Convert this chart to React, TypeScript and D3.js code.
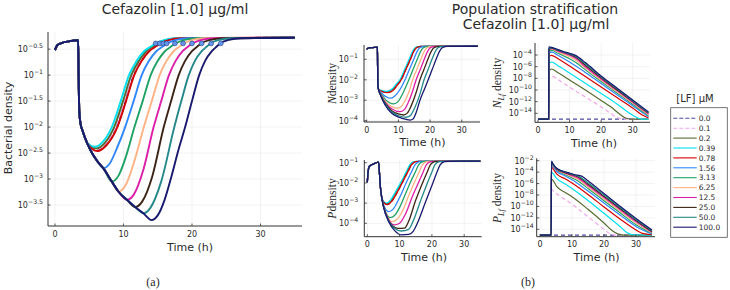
import React from "react";
import * as d3 from "d3";

type Pt = [number, number];

// ---------- legend / series ----------
const LABELS = ["0.0", "0.1", "0.2", "0.39", "0.78", "1.56", "3.13", "6.25", "12.5", "25.0", "50.0", "100.0"];
const COLORS = ["#4b4b9e", "#f5a6ea", "#566b30", "#00e0f0", "#d40000", "#2f86ff", "#1fa264", "#ffb283", "#dc1ea8", "#3b2415", "#23888a", "#17186e"];
const DASHED = [true, true, false, false, false, false, false, false, false, false, false, false];

const T_TICKS = [0, 10, 20, 30];

// ---------- panel (a): Bacterial density (log10) ----------
const A_START: Pt[] = [[0, -0.52], [0.3, -0.43], [1, -0.38], [2, -0.35], [3.38, -0.33]];
const A_ENV: Pt[] = [[3.45, -1.0], [3.55, -1.7], [3.75, -1.95], [4.0, -2.06], [4.7, -2.31], [5.4, -2.5], [6.2, -2.66], [7.05, -2.79], [8.3, -3.05], [9.25, -3.24], [10.5, -3.4], [11.7, -3.54], [12.9, -3.66]];
const A_ENV_END = [4.0, 4.0, 4.0, 4.0, 4.0, 6.2, 7.05, 8.3, 9.25, 10.5, 11.7, 12.9];
const A_TAIL: Pt[][] = [
  [[4.7, -2.31], [6.2, -2.45], [7.5, -2.34], [9.05, -2.0], [10.3, -1.5], [11.5, -1.0], [12.6, -0.73], [13.7, -0.54], [14.65, -0.45], [15.35, -0.39], [16.6, -0.32], [18.3, -0.29], [35, -0.28]],
  [[4.7, -2.31], [6.1, -2.43], [7.4, -2.32], [8.87, -2.0], [10.15, -1.5], [11.35, -1.0], [12.43, -0.73], [13.53, -0.54], [14.5, -0.45], [15.2, -0.39], [16.5, -0.32], [18.2, -0.29], [35, -0.28]],
  [[4.7, -2.31], [6.1, -2.41], [7.3, -2.3], [8.64, -2.0], [9.93, -1.5], [11.13, -1.0], [12.22, -0.73], [13.32, -0.54], [14.3, -0.45], [15.0, -0.39], [16.3, -0.32], [18.0, -0.29], [35, -0.28]],
  [[4.7, -2.3], [5.8, -2.38], [7.0, -2.28], [8.3, -2.0], [9.6, -1.5], [10.8, -1.0], [11.9, -0.73], [13.0, -0.54], [14.0, -0.45], [14.7, -0.39], [16.0, -0.32], [17.7, -0.29], [35, -0.28]],
  [[4.7, -2.31], [6.2, -2.46], [7.5, -2.35], [9.1, -2.0], [10.37, -1.5], [11.57, -1.0], [12.64, -0.73], [13.74, -0.54], [14.7, -0.45], [15.4, -0.39], [16.7, -0.32], [18.4, -0.29], [35, -0.28]],
  [[7.05, -2.79], [8.0, -2.7], [9.0, -2.42], [10.24, -2.0], [11.48, -1.5], [12.66, -1.0], [13.7, -0.73], [14.79, -0.54], [15.72, -0.45], [16.4, -0.39], [17.7, -0.32], [19.4, -0.29], [35, -0.28]],
  [[8.3, -3.05], [9.3, -2.93], [10.4, -2.55], [11.6, -2.0], [12.8, -1.5], [13.97, -1.0], [14.98, -0.73], [16.05, -0.54], [16.94, -0.45], [17.6, -0.39], [18.9, -0.32], [20.6, -0.29], [35, -0.28]],
  [[9.25, -3.24], [10.3, -3.12], [11.6, -2.65], [12.97, -2.0], [14.13, -1.5], [15.28, -1.0], [16.26, -0.73], [17.32, -0.54], [18.17, -0.45], [18.8, -0.39], [20.1, -0.32], [21.8, -0.29], [35, -0.28]],
  [[10.5, -3.4], [11.5, -3.3], [12.9, -2.82], [14.4, -2.0], [15.51, -1.5], [16.64, -1.0], [17.59, -0.73], [18.63, -0.54], [19.44, -0.45], [20.05, -0.39], [21.4, -0.32], [23.1, -0.29], [35, -0.28]],
  [[11.7, -3.54], [12.7, -3.44], [14.2, -2.95], [15.88, -2.0], [16.95, -1.5], [18.06, -1.0], [18.97, -0.73], [20.0, -0.54], [20.77, -0.45], [21.35, -0.39], [22.7, -0.32], [24.4, -0.29], [35, -0.28]],
  [[12.9, -3.66], [13.9, -3.56], [15.5, -3.05], [17.42, -2.0], [18.44, -1.5], [19.53, -1.0], [20.41, -0.73], [21.42, -0.54], [22.16, -0.45], [22.7, -0.39], [24.0, -0.32], [25.7, -0.29], [35, -0.28]],
  [[14.1, -3.79], [15, -3.7], [16, -3.4], [17, -2.95], [18, -2.45], [19.0, -2.0], [20.0, -1.5], [21.05, -1.0], [21.9, -0.73], [22.9, -0.54], [23.6, -0.45], [24.1, -0.39], [25.4, -0.32], [27.1, -0.29], [35, -0.28]],
];
const A_MARK_T = [14.7, 15.3, 15.8, 16.3, 17.5, 18.7, 20.0, 21.4, 22.8, 24.2];
const A_MARK_V = -0.39;

// ---------- panel N ----------
const N_START: Pt[] = [[0, -0.51], [0.4, -0.46], [1.2, -0.43], [2.5, -0.42], [3.38, -0.41], [3.45, -1.4], [3.55, -2.3], [3.7, -2.45]];
const N_TAIL: Pt[][] = [
  [[4.5, -2.55], [6.5, -2.62], [8.3, -2.51], [9.7, -2.25], [10.9, -2.0], [12.35, -1.5], [13.8, -1.0], [14.9, -0.6], [15.9, -0.42], [17.4, -0.37], [35, -0.36]],
  [[4.5, -2.54], [6.4, -2.61], [8.2, -2.5], [9.6, -2.24], [10.8, -2.0], [12.25, -1.5], [13.7, -1.0], [14.8, -0.6], [15.8, -0.42], [17.3, -0.37], [35, -0.36]],
  [[4.5, -2.53], [6.3, -2.6], [8.1, -2.48], [9.5, -2.23], [10.7, -2.0], [12.15, -1.5], [13.6, -1.0], [14.7, -0.6], [15.7, -0.42], [17.2, -0.37], [35, -0.36]],
  [[4.5, -2.52], [6.2, -2.57], [8.0, -2.45], [9.3, -2.22], [10.5, -2.0], [11.95, -1.5], [13.4, -1.0], [14.5, -0.6], [15.5, -0.42], [17.0, -0.37], [35, -0.36]],
  [[4.5, -2.55], [6.5, -2.63], [8.3, -2.52], [9.7, -2.25], [10.9, -2.0], [12.35, -1.5], [13.8, -1.0], [14.9, -0.6], [15.9, -0.42], [17.4, -0.37], [35, -0.36]],
  [[4.5, -2.62], [5.8, -2.8], [7.3, -2.9], [8.8, -2.8], [10.6, -2.45], [12.1, -2.0], [13.45, -1.5], [14.85, -1.0], [15.95, -0.6], [16.95, -0.42], [18.45, -0.37], [35, -0.36]],
  [[4.5, -2.68], [6.0, -2.98], [7.2, -3.12], [8.4, -3.18], [9.8, -3.08], [11.6, -2.6], [13.3, -2.0], [14.6, -1.5], [15.95, -1.0], [17.05, -0.6], [18.05, -0.42], [19.55, -0.37], [35, -0.36]],
  [[4.5, -2.72], [6.0, -3.08], [7.8, -3.3], [9.5, -3.39], [10.9, -3.3], [12.0, -3.05], [13.3, -2.6], [14.5, -2.0], [15.8, -1.5], [17.1, -1.0], [18.2, -0.6], [19.2, -0.42], [20.7, -0.37], [35, -0.36]],
  [[4.5, -2.75], [6.0, -3.14], [8.0, -3.43], [10.5, -3.56], [11.8, -3.47], [13.0, -3.15], [14.4, -2.6], [15.6, -2.0], [16.9, -1.5], [18.15, -1.0], [19.25, -0.6], [20.25, -0.42], [21.75, -0.37], [35, -0.36]],
  [[4.5, -2.77], [6.0, -3.18], [8.0, -3.52], [10.0, -3.67], [11.6, -3.72], [12.8, -3.63], [14.1, -3.25], [15.6, -2.62], [16.8, -2.0], [18.05, -1.5], [19.3, -1.0], [20.4, -0.6], [21.4, -0.42], [22.9, -0.37], [35, -0.36]],
  [[4.5, -2.79], [6.0, -3.21], [8.0, -3.59], [10.3, -3.77], [12.6, -3.83], [13.8, -3.75], [15.2, -3.35], [16.8, -2.7], [18.1, -2.0], [19.35, -1.5], [20.6, -1.0], [21.7, -0.6], [22.7, -0.42], [24.2, -0.37], [35, -0.36]],
  [[4.5, -2.8], [5.8, -3.23], [7.9, -3.64], [10.5, -3.85], [12.5, -3.94], [13.7, -3.97], [14.6, -3.92], [15.6, -3.6], [16.8, -3.0], [18.1, -2.5], [19.4, -2.0], [20.65, -1.5], [21.9, -1.0], [23.0, -0.6], [24.0, -0.42], [25.5, -0.37], [35, -0.36]],
];

// ---------- panel P ----------
const P_START: Pt[] = [[0, -1.97], [0.25, -1.45], [0.6, -1.18], [1.35, -1.1], [2.2, -1.04], [3.0, -0.99], [3.45, -0.97], [3.6, -1.15], [3.8, -1.6], [4.0, -2.1], [4.4, -2.65]];
const P_TAIL: Pt[][] = [
  [[5.0, -2.95], [6.2, -3.07], [7.5, -2.91], [9.15, -2.5], [10.8, -2.0], [12.4, -1.5], [13.7, -1.1], [15.0, -0.95], [16.2, -0.93], [35, -0.92]],
  [[5.0, -2.94], [6.1, -3.05], [7.4, -2.9], [9.0, -2.48], [10.65, -2.0], [12.25, -1.5], [13.55, -1.1], [14.85, -0.95], [16.05, -0.93], [35, -0.92]],
  [[5.0, -2.93], [6.05, -3.03], [7.3, -2.88], [8.9, -2.47], [10.5, -2.0], [12.1, -1.5], [13.4, -1.1], [14.7, -0.95], [15.9, -0.93], [35, -0.92]],
  [[5.0, -2.92], [6.0, -3.0], [7.2, -2.85], [8.7, -2.45], [10.3, -2.0], [11.9, -1.5], [13.2, -1.1], [14.5, -0.95], [15.7, -0.93], [35, -0.92]],
  [[5.0, -2.95], [6.2, -3.08], [7.5, -2.92], [9.15, -2.5], [10.8, -2.0], [12.4, -1.5], [13.7, -1.1], [15.0, -0.95], [16.2, -0.93], [35, -0.92]],
  [[5.0, -3.05], [6.6, -3.42], [8.0, -3.3], [9.6, -2.85], [10.8, -2.45], [12.0, -2.0], [13.55, -1.5], [14.8, -1.1], [16.1, -0.95], [17.3, -0.93], [35, -0.92]],
  [[5.0, -3.1], [6.0, -3.55], [7.0, -3.72], [8.5, -3.6], [10.2, -3.15], [11.8, -2.55], [13.25, -2.0], [14.75, -1.5], [15.95, -1.1], [17.25, -0.95], [18.45, -0.93], [35, -0.92]],
  [[5.0, -3.12], [6.2, -3.65], [7.6, -3.92], [9.2, -3.8], [11.0, -3.35], [12.9, -2.6], [14.5, -2.0], [15.95, -1.5], [17.1, -1.1], [18.4, -0.95], [19.6, -0.93], [35, -0.92]],
  [[5.0, -3.14], [6.4, -3.75], [8.3, -4.08], [10.0, -4.0], [11.8, -3.55], [14.0, -2.65], [15.8, -2.0], [17.2, -1.5], [18.3, -1.1], [19.6, -0.95], [20.8, -0.93], [35, -0.92]],
  [[5.0, -3.15], [6.5, -3.82], [8.0, -4.15], [9.5, -4.25], [11.5, -4.24], [12.8, -3.9], [15.0, -2.85], [17.1, -2.0], [18.45, -1.5], [19.55, -1.1], [20.85, -0.95], [22.05, -0.93], [35, -0.92]],
  [[5.0, -3.16], [6.6, -3.88], [8.2, -4.22], [10.5, -4.38], [12.8, -4.3], [14.3, -3.85], [16.5, -2.88], [18.6, -2.0], [19.9, -1.5], [20.95, -1.1], [22.25, -0.95], [23.45, -0.93], [35, -0.92]],
  [[5.0, -3.17], [6.7, -3.95], [8.4, -4.35], [10.5, -4.57], [12.8, -4.55], [14.2, -4.4], [15.5, -4.0], [17.9, -3.0], [20.3, -2.0], [21.5, -1.5], [22.6, -1.1], [23.9, -0.95], [25.1, -0.93], [35, -0.92]],
];

// ---------- panel N_Lf ----------
const LF_FLOOR = -15;
const NLF_JUMP_T = 3.4;
const NLF_TAIL: Pt[][] = [
  [[35, -15]],
  [[3.45, -8.0], [4.4, -7.6], [6, -8.1], [10, -9.5], [15, -11.2], [20, -12.9], [23, -14.0], [25, -14.7], [27, -15], [35, -15]],
  [[3.45, -6.7], [4.3, -6.4], [6, -6.9], [10, -8.3], [15, -10.0], [20, -11.8], [24, -13.3], [26, -14.2], [28, -14.85], [30, -15], [35, -15]],
  [[3.45, -5.5], [4.3, -5.2], [6, -5.7], [10, -7.1], [15, -8.85], [20, -10.6], [25, -12.4], [28, -13.6], [30.5, -14.5], [32.5, -14.95], [35, -15]],
  [[3.45, -4.3], [4.3, -4.05], [6, -4.5], [10, -5.9], [15, -7.7], [20, -9.5], [25, -11.3], [30, -13.1], [33, -14.3], [35, -14.8]],
  [[3.45, -3.7], [4.4, -3.5], [6, -3.95], [10, -5.2], [12, -5.9], [15, -7.0], [20, -8.9], [25, -10.8], [30, -12.7], [35, -14.6]],
  [[3.45, -3.4], [4.4, -3.2], [6, -3.6], [10, -4.65], [12, -5.3], [15, -6.55], [20, -8.55], [25, -10.5], [30, -12.45], [35, -14.4]],
  [[3.45, -3.2], [4.4, -3.0], [6, -3.4], [10, -4.3], [12, -4.9], [15, -6.25], [20, -8.3], [25, -10.3], [30, -12.25], [35, -14.25]],
  [[3.45, -3.05], [4.5, -2.9], [6, -3.25], [10, -4.05], [12, -4.6], [15, -6.0], [20, -8.1], [25, -10.1], [30, -12.1], [35, -14.1]],
  [[3.45, -2.95], [4.5, -2.82], [6, -3.15], [10, -3.9], [12, -4.4], [15, -5.75], [20, -7.9], [25, -9.95], [30, -11.95], [35, -13.95]],
  [[3.45, -2.85], [4.5, -2.77], [6, -3.08], [10, -3.8], [12, -4.25], [15, -5.5], [20, -7.75], [25, -9.8], [30, -11.85], [35, -13.85]],
  [[3.42, -2.6], [4.5, -2.72], [6, -3.0], [8, -3.4], [10, -3.7], [12, -4.1], [15, -5.3], [20, -7.6], [25, -9.65], [30, -11.7], [35, -13.75]],
];

// ---------- panel P_Lf ----------
const PLF_JUMP_T = 3.5;
const PLF_TAIL: Pt[][] = [
  [[35, -15]],
  [[3.55, -7.0], [4.5, -7.5], [6, -8.1], [10, -9.6], [15, -11.8], [20, -14.0], [22, -14.8], [24, -15], [35, -15]],
  [[3.55, -5.2], [4.0, -5.4], [5.2, -6.5], [8, -7.6], [10, -8.3], [15, -10.5], [20, -12.9], [22.5, -14.2], [24.5, -14.85], [26, -15], [35, -15]],
  [[3.55, -4.0], [4.0, -4.2], [5.2, -5.1], [8, -6.1], [10, -6.85], [15, -8.95], [20, -11.2], [25, -13.5], [27, -14.5], [29, -14.95], [35, -15]],
  [[3.55, -3.1], [4.0, -3.35], [5.2, -4.3], [8, -5.2], [10, -5.9], [15, -7.9], [20, -10.1], [25, -12.2], [30, -14.1], [32, -14.7], [35, -14.95]],
  [[3.55, -2.7], [4.0, -2.95], [5.2, -3.85], [8, -4.7], [10, -5.35], [15, -7.3], [20, -9.4], [25, -11.5], [30, -13.5], [35, -14.8]],
  [[3.58, -2.5], [4.0, -2.75], [5.2, -3.6], [8, -4.45], [10, -5.0], [12, -5.6], [15, -6.85], [20, -9.0], [25, -11.1], [30, -13.2], [35, -14.7]],
  [[3.6, -2.4], [4.0, -2.65], [5.2, -3.5], [8, -4.3], [10, -4.8], [12, -5.3], [15, -6.6], [20, -8.7], [25, -10.8], [30, -12.9], [35, -14.6]],
  [[3.6, -2.3], [4.0, -2.6], [5.2, -3.45], [8, -4.2], [10, -4.6], [12, -5.05], [15, -6.35], [20, -8.45], [25, -10.55], [30, -12.65], [35, -14.5]],
  [[3.6, -2.2], [4.0, -2.55], [5.2, -3.4], [8, -4.1], [10, -4.45], [12, -4.85], [15, -6.1], [20, -8.2], [25, -10.35], [30, -12.45], [35, -14.4]],
  [[3.6, -2.15], [4.0, -2.52], [5.2, -3.37], [8, -4.0], [10, -4.35], [12, -4.7], [15, -5.85], [20, -8.0], [25, -10.15], [30, -12.3], [35, -14.25]],
  [[3.6, -2.05], [4.0, -2.5], [5.2, -3.33], [7, -3.8], [9.4, -4.2], [11, -4.45], [13, -4.7], [15, -5.5], [20, -7.75], [25, -9.95], [30, -12.1], [35, -14.1]],
];

// ---------- build series ----------
const seriesA: Pt[][] = A_TAIL.map((tail, i) => [...A_START, ...A_ENV.filter((p) => p[0] <= A_ENV_END[i]), ...tail]);
const seriesN: Pt[][] = N_TAIL.map((tail) => [...N_START, ...tail]);
const seriesP: Pt[][] = P_TAIL.map((tail) => [...P_START, ...tail]);
const seriesNLf: Pt[][] = NLF_TAIL.map((tail) => [[0, LF_FLOOR], [NLF_JUMP_T, LF_FLOOR], ...tail] as Pt[]);
const seriesPLf: Pt[][] = PLF_TAIL.map((tail) => [[0, LF_FLOOR], [PLF_JUMP_T, LF_FLOOR], ...tail] as Pt[]);

const SANS = "'DejaVu Sans', sans-serif";
const SERIF = "'Liberation Serif', 'DejaVu Serif', serif";
const TXT = "#2a2a2a";

interface PanelProps {
  id: string;
  left: number; right: number; top: number; bottom: number;
  tDom: [number, number]; vDom: [number, number];
  yTicks: number[];
  series: Pt[][];
  lw: number;
  gap: number;
  dash: string;
  marks?: { t: number[]; v: number };
}

function fmtExp(v: number) {
  const a = Math.abs(v);
  const s = Number.isInteger(v) ? String(a) : a.toFixed(1);
  return (v < 0 ? "\u2212" : "") + s;
}

function Panel(p: PanelProps) {
  const x = d3.scaleLinear().domain(p.tDom).range([p.left, p.right]);
  const y = d3.scaleLinear().domain(p.vDom).range([p.bottom, p.top]);
  const line = d3.line<Pt>().x((d) => x(d[0])).y((d) => y(d[1])).curve(d3.curveMonotoneX);
  const tk = 2.5;
  return (
    <g>
      <defs>
        <clipPath id={p.id}>
          <rect x={p.left} y={p.top - 2} width={p.right - p.left} height={p.bottom - p.top + 2} />
        </clipPath>
      </defs>
      {T_TICKS.map((t) => (
        <line key={"gx" + t} x1={x(t)} x2={x(t)} y1={p.top} y2={p.bottom} stroke="#000" strokeOpacity={0.1} strokeWidth={0.5} />
      ))}
      {p.yTicks.map((v) => (
        <line key={"gy" + v} x1={p.left} x2={p.right} y1={y(v)} y2={y(v)} stroke="#000" strokeOpacity={0.1} strokeWidth={0.5} />
      ))}
      <g clipPath={`url(#${p.id})`}>
        {p.series.map((s, i) => (
          <path key={i} d={line(s) || ""} fill="none" stroke={COLORS[i]} strokeWidth={p.lw}
            strokeDasharray={DASHED[i] ? p.dash : undefined} strokeLinejoin="round" />
        ))}
      </g>
      {p.marks && p.marks.t.map((t, i) => (
        <circle key={"m" + i} cx={x(t)} cy={y(p.marks!.v)} r={2.4} fill="#6495ed" stroke="#2c4a8a" strokeWidth={0.7} />
      ))}
      <line x1={p.left} x2={p.right} y1={p.bottom} y2={p.bottom} stroke="#333" strokeWidth={1} />
      <line x1={p.left} x2={p.left} y1={p.top} y2={p.bottom} stroke="#333" strokeWidth={1} />
      {T_TICKS.map((t) => (
        <g key={"tx" + t}>
          <line x1={x(t)} x2={x(t)} y1={p.bottom} y2={p.bottom - tk} stroke="#333" strokeWidth={0.8} />
          <text x={x(t)} y={p.bottom + 10.5} textAnchor="middle" fontSize={8} fontFamily={SANS} fill={TXT}>{t}</text>
        </g>
      ))}
      {p.yTicks.map((v) => (
        <g key={"ty" + v}>
          <line x1={p.left} x2={p.left + tk} y1={y(v)} y2={y(v)} stroke="#333" strokeWidth={0.8} />
          <text x={p.left - p.gap} y={y(v) + 3} textAnchor="end" fontSize={8} fontFamily={SANS} fill={TXT}>
            10<tspan dy={-4} fontSize={6.2}>{fmtExp(v)}</tspan>
          </text>
        </g>
      ))}
    </g>
  );
}

export default function App() {
  return (
    <svg width={730} height={290} style={{ position: "absolute", left: 0, top: 0, background: "#fff" }}>
      <rect x={0} y={0} width={730} height={290} fill="#fff" />
      {/* titles */}
      <text x={175} y={13.5} textAnchor="middle" fontSize={14} fontFamily={SANS} fill={TXT}>Cefazolin [1.0] μg/ml</text>
      <text x={535} y={14} textAnchor="middle" fontSize={14} fontFamily={SANS} fill={TXT}>Population stratification</text>
      <text x={536} y={29.3} textAnchor="middle" fontSize={14} fontFamily={SANS} fill={TXT}>Cefazolin [1.0] μg/ml</text>

      <Panel id="cA" left={48} right={302} top={32} bottom={226} tDom={[-1.02, 36.06]} vDom={[-3.904, -0.17]}
        yTicks={[-3.5, -3, -2.5, -2, -1.5, -1, -0.5]} series={seriesA} lw={1.9} gap={5} dash="5,3"
        marks={{ t: A_MARK_T, v: A_MARK_V }} />
      <Panel id="cN" left={364} right={480} top={45} bottom={122} tDom={[-0.85, 35.74]} vDom={[-4.063, -0.3]}
        yTicks={[-4, -3, -2, -1]} series={seriesN} lw={1.3} gap={6} dash="4,3" />
      <Panel id="cP" left={364.3} right={481.7} top={160} bottom={236.7} tDom={[-0.93, 35.42]} vDom={[-4.663, -0.866]}
        yTicks={[-4, -3, -2, -1]} series={seriesP} lw={1.3} gap={6} dash="4,3" />
      <Panel id="cNL" left={535} right={650} top={43} bottom={122.3} tDom={[-0.95, 35.48]} vDom={[-15.54, -1.94]}
        yTicks={[-14, -12, -10, -8, -6, -4]} series={seriesNLf} lw={1.2} gap={3} dash="4,3" />
      <Panel id="cPL" left={536.7} right={655} top={158.3} bottom={236.7} tDom={[-1.03, 35.94]} vDom={[-15.29, -1.58]}
        yTicks={[-14, -12, -10, -8, -6, -4, -2]} series={seriesPLf} lw={1.2} gap={3} dash="4,3" />

      {/* axis labels */}
      <text x={190} y={250.5} textAnchor="middle" fontSize={11} fontFamily={SANS} fill={TXT}>Time (h)</text>
      <text transform="translate(11.5,128) rotate(-90)" textAnchor="middle" fontSize={11} fontFamily={SANS} fill={TXT}>Bacterial density</text>
      <text x={422.5} y={146} textAnchor="middle" fontSize={11} fontFamily={SANS} fill={TXT}>Time (h)</text>
      <text x={424} y={260.5} textAnchor="middle" fontSize={11} fontFamily={SANS} fill={TXT}>Time (h)</text>
      <text x={594} y={146.5} textAnchor="middle" fontSize={11} fontFamily={SANS} fill={TXT}>Time (h)</text>
      <text x={596.5} y={260.5} textAnchor="middle" fontSize={11} fontFamily={SANS} fill={TXT}>Time (h)</text>

      <text transform="translate(335.5,83.5) rotate(-90)" textAnchor="middle" fontSize={11.5} fontFamily={SERIF} fill={TXT}>
        <tspan fontStyle="italic">N</tspan>density
      </text>
      <text transform="translate(335.5,198.5) rotate(-90)" textAnchor="middle" fontSize={11.5} fontFamily={SERIF} fill={TXT}>
        <tspan fontStyle="italic">P</tspan>density
      </text>
      <text transform="translate(500.5,83) rotate(-90)" textAnchor="middle" fontSize={11.5} fontFamily={SERIF} fill={TXT}>
        <tspan fontStyle="italic">N</tspan><tspan fontStyle="italic" fontSize={8} dy={3}>Lf</tspan><tspan dy={-3}> density</tspan>
      </text>
      <text transform="translate(500.5,198) rotate(-90)" textAnchor="middle" fontSize={11.5} fontFamily={SERIF} fill={TXT}>
        <tspan fontStyle="italic">P</tspan><tspan fontStyle="italic" fontSize={8} dy={3}>Lf</tspan><tspan dy={-3}> density</tspan>
      </text>

      {/* captions */}
      <text x={153} y={286} textAnchor="middle" fontSize={12} fontFamily={SERIF} fill={TXT}>(a)</text>
      <text x={528} y={286} textAnchor="middle" fontSize={12} fontFamily={SERIF} fill={TXT}>(b)</text>

      {/* legend */}
      <text x={695} y={101.5} textAnchor="middle" fontSize={10} fontFamily={SANS} fill={TXT}>[LF] μM</text>
      <rect x={670.7} y={107.7} width={56.6} height={129.6} fill="#fff" stroke="#555" strokeWidth={0.8} />
      {LABELS.map((lab, i) => {
        const yy = 118.3 + i * 9.9;
        return (
          <g key={lab}>
            <line x1={673.3} x2={696.7} y1={yy} y2={yy} stroke={COLORS[i]} strokeWidth={1.1} strokeDasharray={DASHED[i] ? "4,2" : undefined} />
            <text x={698.7} y={yy + 2.7} fontSize={7.5} fontFamily={SANS} fill={TXT}>{lab}</text>
          </g>
        );
      })}
    </svg>
  );
}
